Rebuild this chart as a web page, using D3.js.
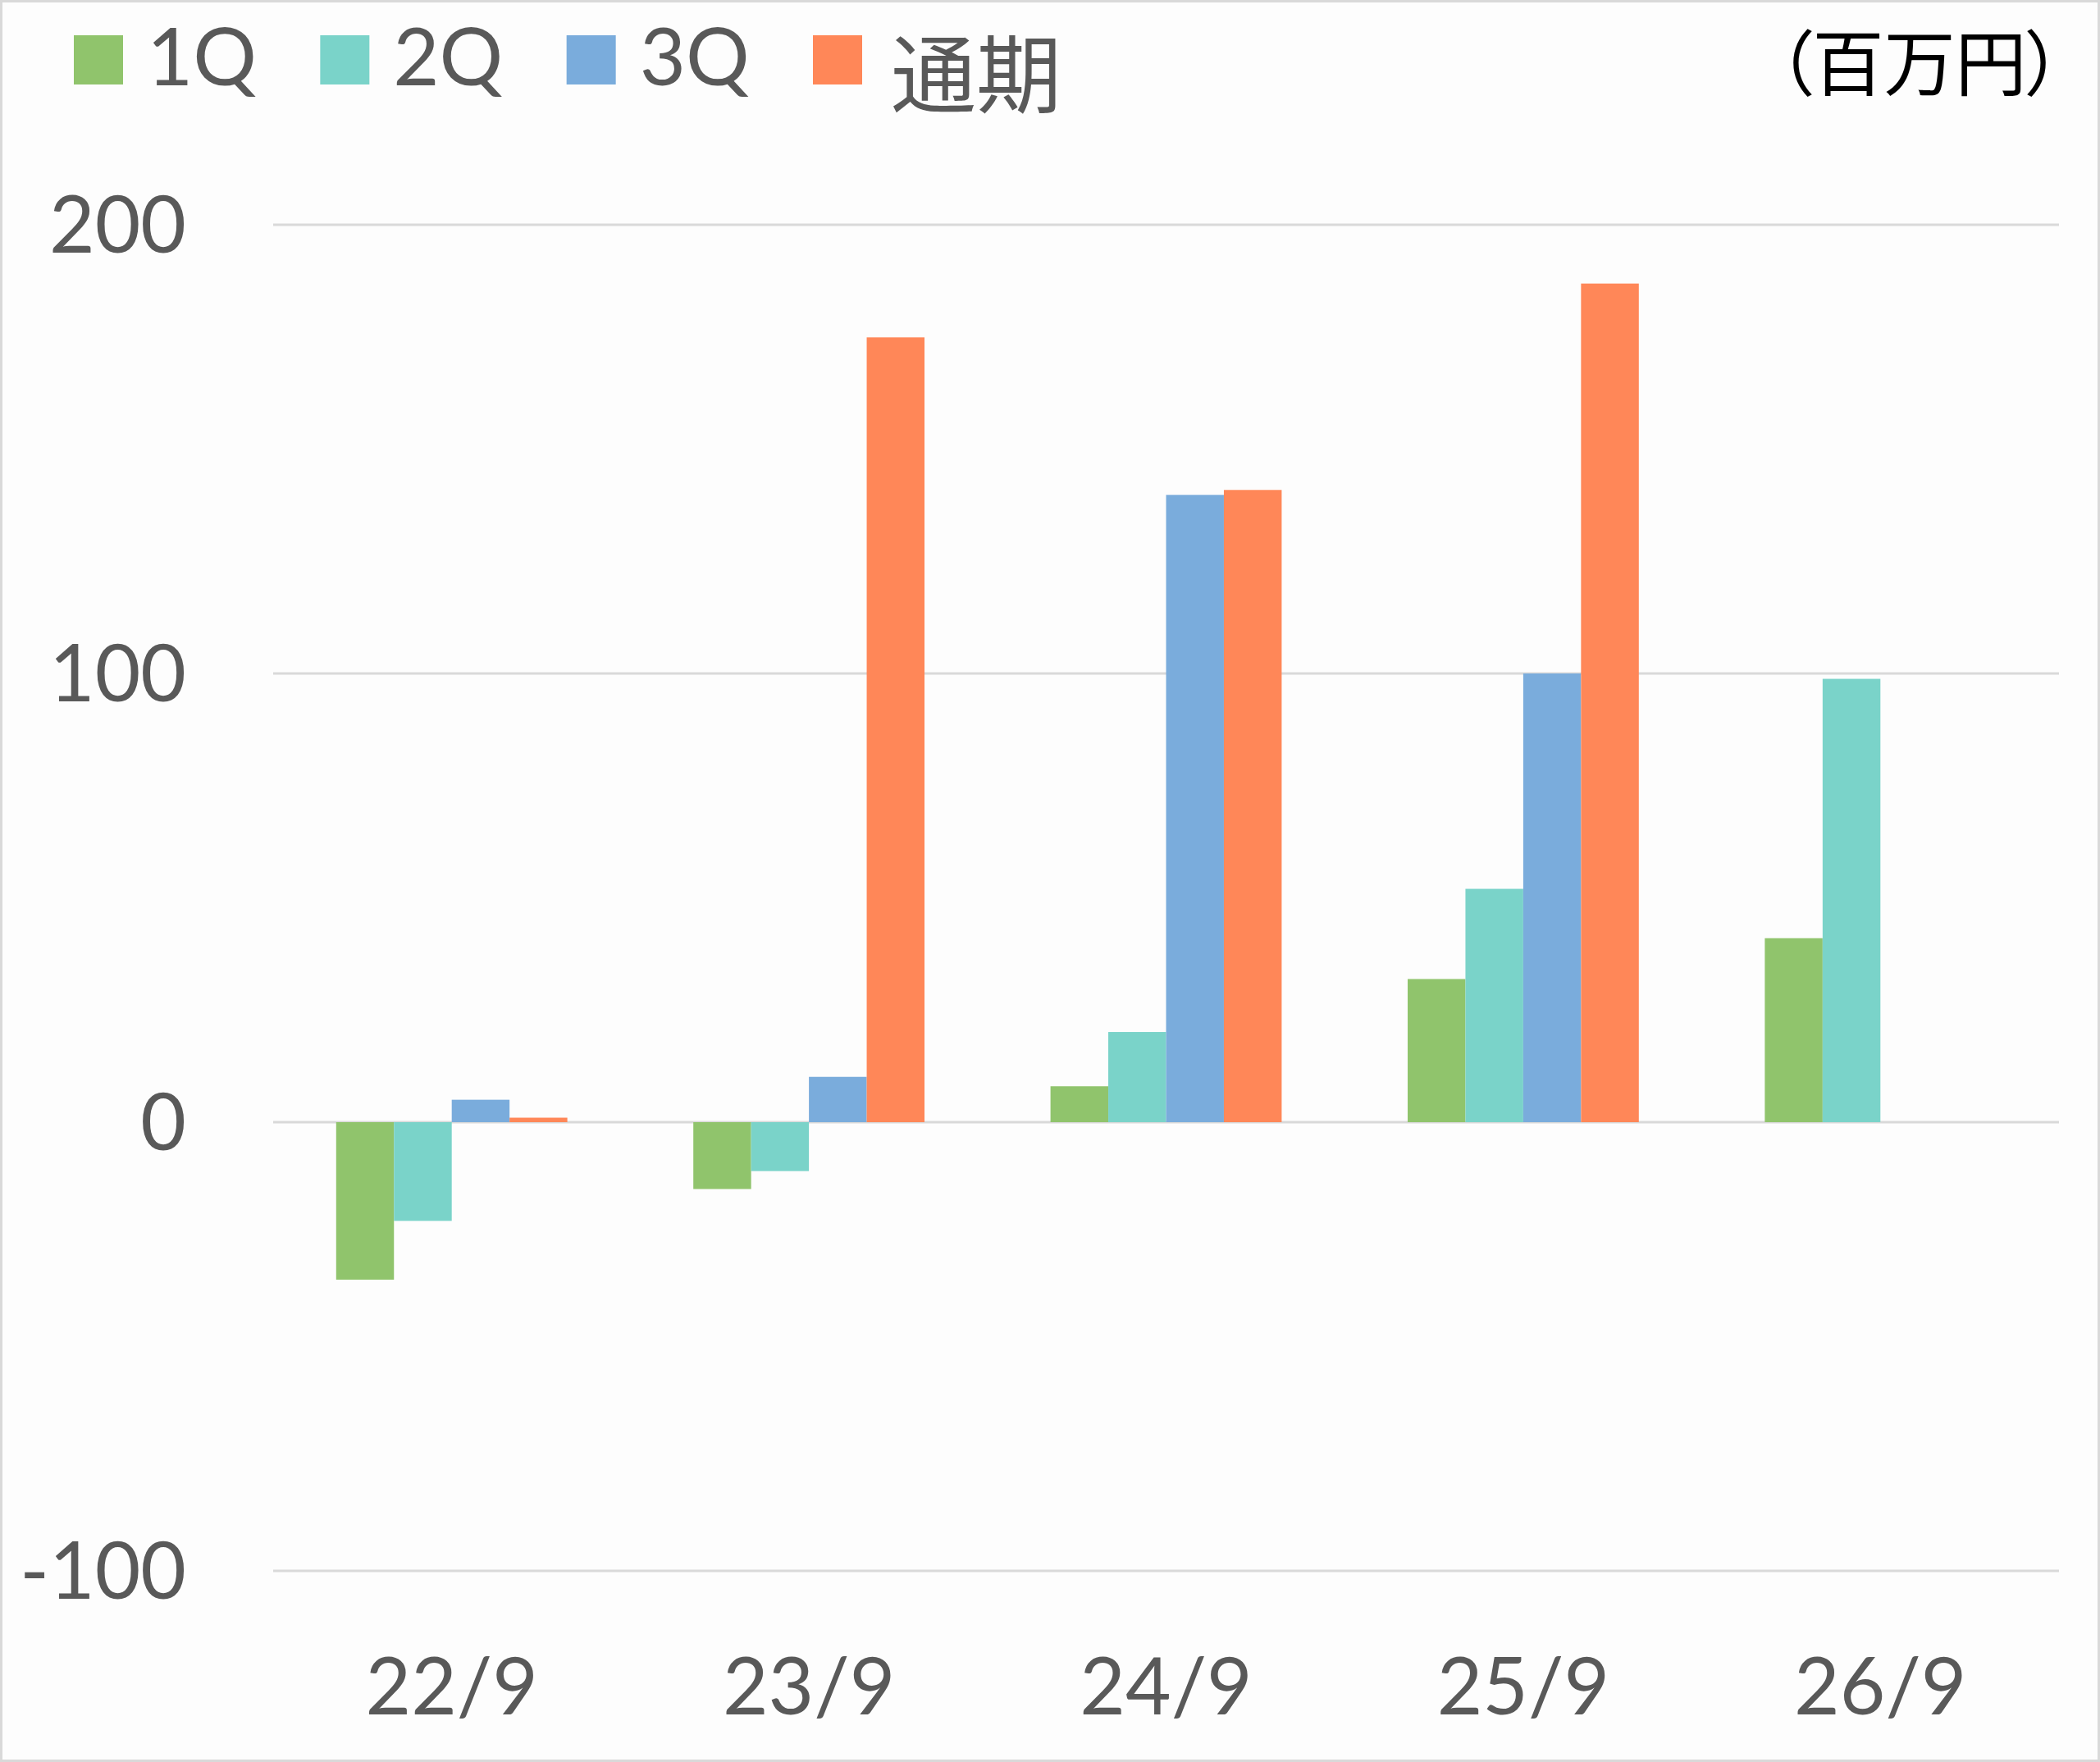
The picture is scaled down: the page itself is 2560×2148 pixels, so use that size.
<!DOCTYPE html>
<html>
<head>
<meta charset="utf-8">
<script src="https://cdn.jsdelivr.net/npm/d3@7"></script>
<style>
  html, body { margin: 0; padding: 0; background: #fdfdfd; }
  svg { display: block; }
</style>
</head>
<body>
<script>
// ---- data ----
const categories = ["22/9", "23/9", "24/9", "25/9", "26/9"];
const seriesNames = ["1Q", "2Q", "3Q", "通期"];
const q1 = [-35.1, -14.9, 8.0, 31.9, 41.0];
const q2 = [-22.0, -10.9, 20.1, 52.0, 98.8];
const q3 = [5.0, 10.1, 139.8, 100.0, null];
const fullYear = [1.0, 174.9, 140.9, 186.9, null];
const yTicks = [-100, 0, 100, 200];
const yTickLabels = ["-100", "0", "100", "200"];
const unitLabel = "（百万円）";

const seriesValues = [q1, q2, q3, fullYear];
const colors = ["#90c46c", "#7ad3c9", "#7aacdc", "#ff8758"];

// ---- layout ----
const W = 2560, H = 2148;
const svg = d3.select("body").append("svg").attr("width", W).attr("height", H);

svg.append("rect").attr("x", 1.5).attr("y", 1.5).attr("width", W - 3).attr("height", H - 3)
  .attr("fill", "#fdfdfd").attr("stroke", "#d9d9d9").attr("stroke-width", 3);

const latin = "Lato, 'Noto Sans', sans-serif";
const cjk = "'Noto Sans CJK JP', 'Noto Sans CJK SC', sans-serif";

const y = d3.scaleLinear().domain([-100, 200]).range([1915, 274]);
const x0 = d3.scaleBand().domain(categories).range([333, 2510]).padding(0);
const x1 = d3.scaleBand().domain(seriesNames).range([0, x0.bandwidth()]).paddingInner(0).paddingOuter(1.09);
const color = d3.scaleOrdinal().domain(seriesNames).range(colors);

// gridlines
svg.append("g").selectAll("line").data(yTicks).join("line")
  .attr("x1", 333).attr("x2", 2510)
  .attr("y1", d => y(d)).attr("y2", d => y(d))
  .attr("stroke", "#d9d9d9").attr("stroke-width", 3);

// y tick labels
svg.append("g").selectAll("text").data(yTicks).join("text")
  .attr("x", 227).attr("y", d => y(d) + 34)
  .attr("text-anchor", "end")
  .attr("font-family", latin).attr("font-size", 96).attr("fill", "#595959")
  .text((d, i) => yTickLabels[i]);

// bars
const rows = [];
categories.forEach((c, i) => {
  seriesNames.forEach((s, j) => {
    const v = seriesValues[j][i];
    if (v !== null && v !== undefined) rows.push({ c, s, v });
  });
});
svg.append("g").selectAll("rect").data(rows).join("rect")
  .attr("x", d => x0(d.c) + x1(d.s))
  .attr("width", x1.bandwidth())
  .attr("y", d => Math.min(y(d.v), y(0)))
  .attr("height", d => Math.abs(y(d.v) - y(0)))
  .attr("fill", d => color(d.s));

// x labels
svg.append("g").selectAll("text").data(categories).join("text")
  .attr("x", d => x0(d) + x0.bandwidth() / 2).attr("y", 2090)
  .attr("text-anchor", "middle")
  .attr("font-family", latin).attr("font-size", 96).attr("fill", "#595959")
  .text(d => d);

// legend
const legendX = d3.scalePoint().domain(seriesNames).range([90, 991]);
const isLatin = d => /[A-Za-z0-9]/.test(d);
const lg = svg.append("g").selectAll("g").data(seriesNames).join("g")
  .attr("transform", d => `translate(${legendX(d)},43)`);
lg.append("rect").attr("width", 60).attr("height", 60).attr("fill", d => color(d));
lg.append("text")
  .attr("x", d => isLatin(d) ? 89 : 95)
  .attr("y", d => isLatin(d) ? 61 : 87)
  .attr("font-family", d => isLatin(d) ? latin : cjk)
  .attr("font-size", d => isLatin(d) ? 97 : 104)
  .attr("fill", "#595959")
  .text(d => d);

// unit label
svg.append("text")
  .attr("x", 2514).attr("y", 110)
  .attr("text-anchor", "end")
  .attr("font-family", cjk).attr("font-size", 87).attr("fill", "#000")
  .style("font-feature-settings", "'palt'")
  .text(unitLabel);
</script>
</body>
</html>
